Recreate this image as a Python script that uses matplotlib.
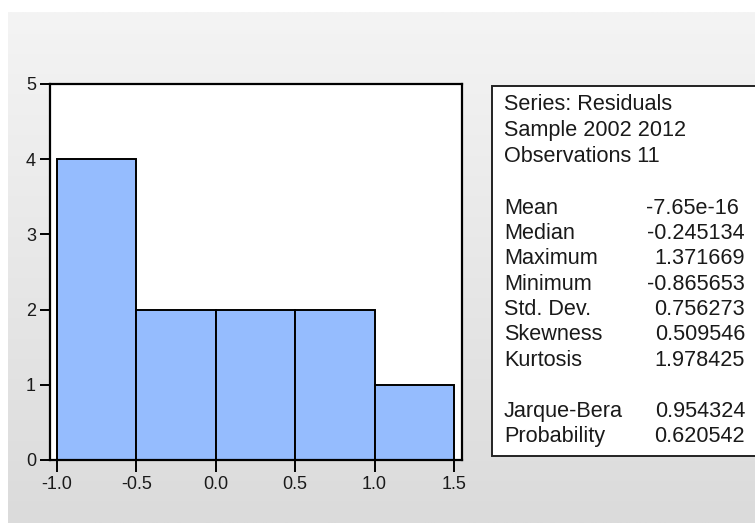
import numpy as np
import matplotlib
matplotlib.use("Agg")
import matplotlib.pyplot as plt
from matplotlib.patches import Rectangle

# Histogram of residuals
bin_edges = [-1.0, -0.5, 0.0, 0.5, 1.0, 1.5]
counts = [4, 2, 2, 2, 1]
x_ticks = [-1.0, -0.5, 0.0, 0.5, 1.0, 1.5]
x_tick_labels = ["-1.0", "-0.5", "0.0", "0.5", "1.0", "1.5"]
y_ticks = [0, 1, 2, 3, 4, 5]

# Descriptive statistics panel
header_lines = ["Series: Residuals", "Sample 2002 2012", "Observations 11"]
stat_names = ["Mean", "Median", "Maximum", "Minimum", "Std. Dev.",
              "Skewness", "Kurtosis", None, "Jarque-Bera", "Probability"]
stat_values = ["-7.65e-16", "-0.245134", "1.371669", "-0.865653", "0.756273",
               "0.509546", "1.978425", None, "0.954324", "0.620542"]

W, H = 755, 523
fig = plt.figure(figsize=(W / 100, H / 100), dpi=100)
fig.patch.set_facecolor("white")

# grey gradient backdrop
bg = fig.add_axes([8 / W, 0, 1 - 8 / W, (H - 12) / H])
grad = np.linspace(0xf4, 0xdb, 256)[:, None]
grad = np.repeat(grad, 2, axis=1)
img = np.dstack([grad, grad, grad]) / 255.0
bg.imshow(img, aspect="auto", extent=[0, 1, 0, 1], origin="upper")
bg.set_axis_off()

FONT = "Liberation Sans"
TXT = "#1a1a1a"

ax = fig.add_axes([50 / W, (H - 460) / H, (462 - 50) / W, (460 - 84) / H])
ax.set_facecolor("white")
widths = np.diff(bin_edges)
ax.bar(bin_edges[:-1], counts, width=widths, align="edge",
       color="#95bcfe", edgecolor="black", linewidth=1.4, zorder=2)
ax.set_xlim(-1.0441, 1.5504)
ax.set_ylim(0, 5)
for s in ax.spines.values():
    s.set_linewidth(1.6)
    s.set_color("black")
ax.set_xticks(x_ticks)
ax.set_xticklabels(x_tick_labels, fontsize=13, family=FONT, color=TXT)
ax.set_yticks(y_ticks)
ax.set_yticklabels([str(v) for v in y_ticks], fontsize=13, family=FONT, color=TXT)
ax.tick_params(axis="x", direction="out", length=8.5, width=1.4, pad=3, color="black")
ax.tick_params(axis="y", direction="out", length=7, width=1.4, pad=3, color="black")

# statistics box
box = fig.add_axes([0, 0, 1, 1], facecolor="none")
box.set_xlim(0, W)
box.set_ylim(H, 0)
box.set_axis_off()
box.add_patch(Rectangle((492, 86), 300, 456 - 86, facecolor="white",
                        edgecolor="#222222", linewidth=1.4, clip_on=False))

FS = 15.6
y0 = 105
step = 25.8
for i, line in enumerate(header_lines):
    box.text(504, y0 + i * step, line, fontsize=FS, family=FONT, color=TXT,
             va="center", ha="left")
ys = 208
for i, (name, val) in enumerate(zip(stat_names, stat_values)):
    if name is None:
        continue
    y = ys + i * 25.4
    box.text(504, y, name, fontsize=FS, family=FONT, color=TXT, va="center", ha="left")
    xr = 739 if "e" in val else 745
    box.text(xr, y, val, fontsize=FS, family=FONT, color=TXT,
             va="center", ha="right")

fig.savefig("out.png", dpi=100)
